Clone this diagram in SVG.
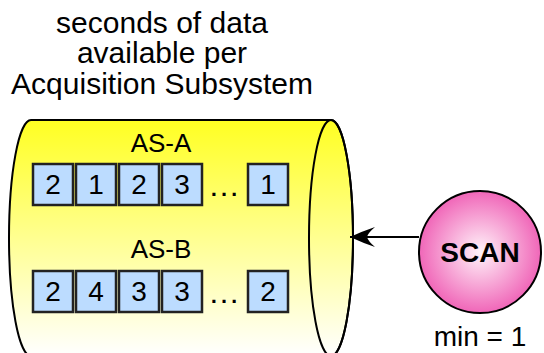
<svg xmlns="http://www.w3.org/2000/svg" width="544" height="353" viewBox="0 0 544 353">
<defs>
<linearGradient id="cylFill" x1="0" y1="0" x2="0" y2="1">
<stop offset="0" stop-color="#ffff22"/>
<stop offset="1" stop-color="#ffffff"/>
</linearGradient>
<radialGradient id="scanFill" cx="0.5" cy="0.5" r="0.5">
<stop offset="0" stop-color="#fff4fa"/>
<stop offset="1" stop-color="#f066b8"/>
</radialGradient>
<marker id="arrow" markerWidth="26" markerHeight="20" refX="25" refY="10" orient="auto" markerUnits="userSpaceOnUse">
<path d="M25,10 Q12,4 0,0 Q7,6 8,10 Q7,14 0,20 Q12,16 25,10 Z" fill="#000"/>
</marker>
<style>
text{font-family:"Liberation Sans",Arial,sans-serif;fill:#000;text-anchor:middle}
.cell{fill:#bcdcff;stroke:#222;stroke-width:2.5}
.dig{font-size:28px}
.dots{font-size:32px}
.lbl{font-size:26px}
.title{font-size:30px}
</style>
</defs>
<g id="title">
<text class="title" x="162" y="33">seconds of data</text>
<text class="title" x="162" y="63">available per</text>
<text class="title" x="162" y="94">Acquisition Subsystem</text>
</g>
<g id="storage">
<path d="M31,120 L331,120 A22,118 0 0 1 331,356 L31,356 A22,118 0 0 1 31,120 Z" fill="url(#cylFill)" stroke="#000" stroke-width="2"/>
<ellipse cx="331" cy="238" rx="22" ry="118" fill="none" stroke="#000" stroke-width="2"/>
<text class="lbl" x="161" y="152">AS-A</text>
<g id="rowA">
<rect class="cell" x="33" y="164" width="40" height="41"/>
<rect class="cell" x="76" y="164" width="40" height="41"/>
<rect class="cell" x="119" y="164" width="40" height="41"/>
<rect class="cell" x="162" y="164" width="40" height="41"/>
<rect class="cell" x="248" y="164" width="40" height="41"/>
<text class="dig" x="53" y="194">2</text>
<text class="dig" x="96" y="194">1</text>
<text class="dig" x="139" y="194">2</text>
<text class="dig" x="182" y="194">3</text>
<text class="dots" x="224" y="196">…</text>
<text class="dig" x="268" y="194">1</text>
</g>
<text class="lbl" x="161" y="258">AS-B</text>
<g id="rowB">
<rect class="cell" x="33" y="271" width="40" height="41"/>
<rect class="cell" x="76" y="271" width="40" height="41"/>
<rect class="cell" x="119" y="271" width="40" height="41"/>
<rect class="cell" x="162" y="271" width="40" height="41"/>
<rect class="cell" x="248" y="271" width="40" height="41"/>
<text class="dig" x="53" y="301">2</text>
<text class="dig" x="96" y="301">4</text>
<text class="dig" x="139" y="301">3</text>
<text class="dig" x="182" y="301">3</text>
<text class="dots" x="224" y="303">…</text>
<text class="dig" x="268" y="301">2</text>
</g>
</g>
<g id="connectors">
<line x1="419" y1="237" x2="350" y2="237" stroke="#000" stroke-width="2" marker-end="url(#arrow)"/>
</g>
<g id="scan">
<circle cx="480" cy="252" r="61" fill="url(#scanFill)" stroke="#000" stroke-width="2"/>
<text x="480" y="262" font-size="28" font-weight="bold">SCAN</text>
<text x="480" y="346" font-size="28">min = 1</text>
</g>
</svg>
